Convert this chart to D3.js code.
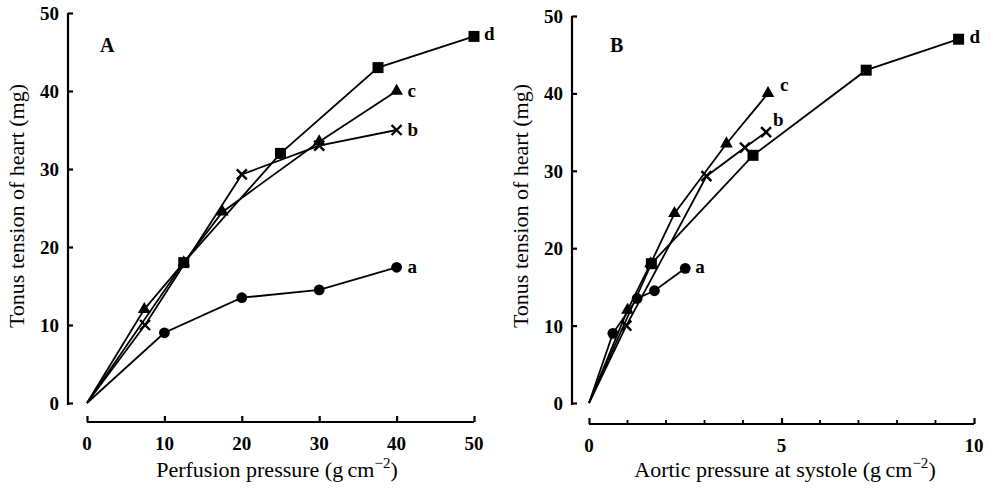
<!DOCTYPE html>
<html>
<head>
<meta charset="utf-8">
<script src="https://cdn.jsdelivr.net/npm/d3@7"></script>
<style>
  body { margin: 0; background: #fff; }
  svg text { font-family: "Liberation Serif", "DejaVu Serif", serif; fill: #000; }
  .tick-label { font-size: 19px; font-weight: bold; }
  .axis-title { font-size: 22px; }
  .panel-label { font-size: 20px; font-weight: bold; }
  .series-label { font-size: 19px; font-weight: bold; }
</style>
</head>
<body>
<svg id="chart" width="993" height="489"></svg>
<script>
// series a..d : tension of heart (mg) against perfusion pressure (A) and aortic pressure (B)
var seriesNames = ['a', 'b', 'c', 'd']
var seriesMarks = ['circle', 'cross', 'triangle', 'square']

var tension = {
  a: [0, 9, 13.5, 14.5, 17.4],
  b: [0, 10, 29.3, 33, 35],
  c: [0, 12, 18, 24.5, 33.5, 40],
  d: [0, 18, 32, 43, 47]
}
var perfusion = {
  a: [0, 10, 20, 30, 40],
  b: [0, 7.5, 20, 30, 40],
  c: [0, 7.4, 12.5, 17.5, 30, 40],
  d: [0, 12.5, 25, 37.6, 50]
}
var aortic = {
  a: [0, 0.62, 1.25, 1.7, 2.5],
  b: [0, 0.97, 3.05, 4.05, 4.6],
  c: [0, 1.0, 1.6, 2.22, 3.57, 4.65],
  d: [0, 1.62, 4.26, 7.2, 9.6]
}

var yTicks = [0, 10, 20, 30, 40, 50]
var xTicksA = [0, 10, 20, 30, 40, 50]
var xTicksB = [0, 5, 10]
var xMinorB = [1, 2, 3, 4, 6, 7, 8, 9]

var svg = d3.select('#chart')

var panels = [
  { letter: 'A', xs: perfusion, xDomain: [0, 50], xRange: [87, 474], yRange: [403, 13],
    yAxisX: 68, xAxisY: 422, ticks: xTicksA, minor: [], titleX: 277,
    title: 'Perfusion pressure (g\u2009cm', letterX: 100,
    labelOff: { a: [11, 6], b: [11, 6], c: [11, 6], d: [10, 4] } },
  { letter: 'B', xs: aortic, xDomain: [0, 10], xRange: [589, 974], yRange: [403, 16],
    yAxisX: 572, xAxisY: 424, ticks: xTicksB, minor: xMinorB, titleX: 785,
    title: 'Aortic pressure at systole (g\u2009cm', letterX: 610,
    labelOff: { a: [10, 5], b: [7, -6], c: [12, -2], d: [11, 4] } }
]

panels.forEach(function(p) {
  var x = d3.scaleLinear().domain(p.xDomain).range(p.xRange)
  var y = d3.scaleLinear().domain([0, 50]).range(p.yRange)
  var g = svg.append('g')

  // y axis (ticks point inward)
  g.append('g')
    .attr('transform', 'translate(' + p.yAxisX + ',0)')
    .call(d3.axisRight(y).tickValues(yTicks).tickSize(5).tickFormat(''))
    .call(function(a) {
      a.select('.domain').attr('d', 'M0,' + (y(50)) + 'V' + (y(0) + 2))
      a.selectAll('line, path').attr('stroke', '#000').attr('stroke-width', 2.2)
    })
  g.selectAll('.ylab').data(yTicks).enter().append('text')
    .attr('class', 'tick-label')
    .attr('x', p.yAxisX - 9).attr('y', function(d) { return y(d) + 7 })
    .attr('text-anchor', 'end')
    .text(function(d) { return d })

  // x axis
  g.append('g')
    .attr('transform', 'translate(0,' + p.xAxisY + ')')
    .call(d3.axisTop(x).tickValues(p.ticks).tickSize(6).tickFormat(''))
    .call(function(a) {
      a.select('.domain').attr('d', 'M' + x.range()[0] + ',0H' + x.range()[1])
      a.selectAll('line, path').attr('stroke', '#000').attr('stroke-width', 2.2)
    })
  g.selectAll('.minor').data(p.minor).enter().append('line')
    .attr('x1', function(d) { return x(d) }).attr('x2', function(d) { return x(d) })
    .attr('y1', p.xAxisY).attr('y2', p.xAxisY - 4)
    .attr('stroke', '#000').attr('stroke-width', 1.8)
  g.selectAll('.xlab').data(p.ticks).enter().append('text')
    .attr('class', 'tick-label')
    .attr('x', function(d) { return x(d) }).attr('y', p.xAxisY + 28)
    .attr('text-anchor', 'middle')
    .text(function(d) { return d })

  // titles
  var t = g.append('text').attr('class', 'axis-title')
    .attr('x', p.titleX).attr('y', 477).attr('text-anchor', 'middle')
  t.append('tspan').text(p.title)
  t.append('tspan').attr('dy', -9).attr('font-size', 15).text('\u22122')
  t.append('tspan').attr('dy', 9).text(')')

  g.append('text').attr('class', 'axis-title')
    .attr('transform', 'translate(' + (p.yAxisX - 44) + ',206) rotate(-90)')
    .attr('text-anchor', 'middle')
    .text('Tonus tension of heart (mg)')

  g.append('text').attr('class', 'panel-label')
    .attr('x', p.letterX).attr('y', 52).text(p.letter)

  var line = d3.line().x(function(d) { return x(d[0]) }).y(function(d) { return y(d[1]) })

  seriesNames.forEach(function(name, i) {
    var pts = d3.zip(p.xs[name], tension[name])
    g.append('path').datum(pts)
      .attr('d', line).attr('fill', 'none')
      .attr('stroke', '#000').attr('stroke-width', 1.8)

    var mark = seriesMarks[i]
    var mg = g.append('g')
    pts.slice(1).forEach(function(d) {
      var cx = x(d[0]), cy = y(d[1])
      if (mark === 'circle') {
        mg.append('circle').attr('cx', cx).attr('cy', cy).attr('r', 5.4).attr('fill', '#000')
      } else if (mark === 'square') {
        mg.append('rect').attr('x', cx - 5.5).attr('y', cy - 5.5)
          .attr('width', 11).attr('height', 11).attr('fill', '#000')
      } else if (mark === 'triangle') {
        mg.append('path').attr('d', d3.symbol(d3.symbolTriangle, 70)())
          .attr('transform', 'translate(' + cx + ',' + cy + ')').attr('fill', '#000')
      } else {
        mg.append('path').attr('d', 'M-5,-5L5,5M-5,5L5,-5')
          .attr('transform', 'translate(' + cx + ',' + cy + ')')
          .attr('stroke', '#000').attr('stroke-width', 2.4)
      }
    })

    var last = pts[pts.length - 1], off = p.labelOff[name]
    g.append('text').attr('class', 'series-label')
      .attr('x', x(last[0]) + off[0]).attr('y', y(last[1]) + off[1])
      .text(name)
  })
})
</script>
</body>
</html>
